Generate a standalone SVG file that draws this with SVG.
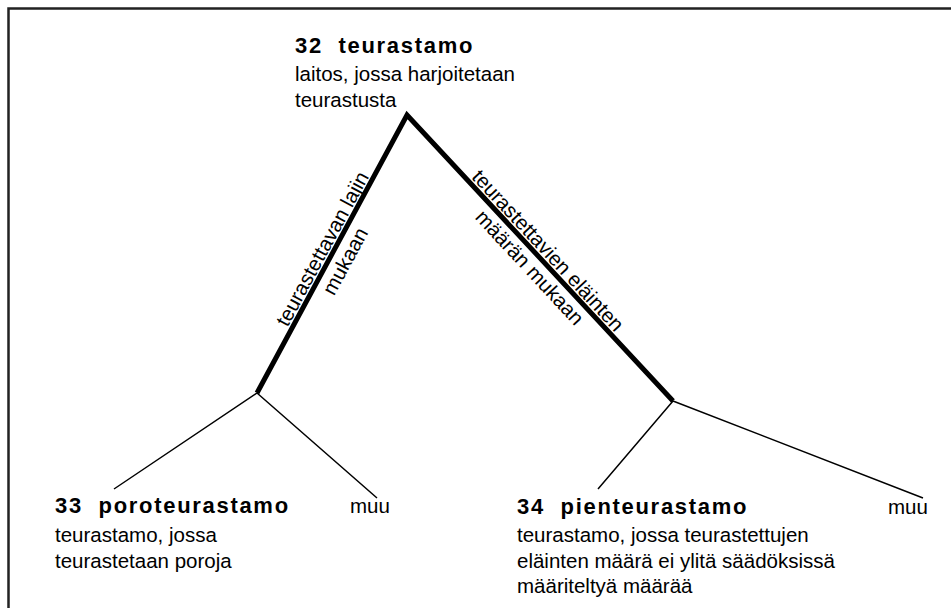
<svg xmlns="http://www.w3.org/2000/svg" width="951" height="608" viewBox="0 0 951 608">
<style>
text{font-family:"Liberation Sans",Arial,sans-serif;fill:#000}
.t{font-size:22px;font-weight:bold;letter-spacing:1.7px}
.d{font-size:20.5px}
.lbl{font-size:20.5px;text-anchor:middle}
.thick{stroke:#000;stroke-width:5;fill:none;stroke-linejoin:miter}
.thin{stroke:#000;stroke-width:1.5;fill:none}
</style>
<rect width="951" height="608" fill="#fff"/>
<path d="M8.5,608 V8.5 H951" fill="none" stroke="#222" stroke-width="2.5"/>
<g id="connectors">
<path class="thick" d="M257,393 L407,115 L673,401"/>
<path class="thin" d="M257,393 L114,489 M257,393 L377,498"/>
<path class="thin" d="M673,401 L598,489 M673,401 L923,498"/>
<g transform="translate(332,254) rotate(-61.6)">
<text class="lbl" y="-4">teurastettavan lajin</text>
<text class="lbl" y="22">mukaan</text>
</g>
<g transform="translate(540,258) rotate(47.1)">
<text class="lbl" y="-4">teurastettavien eläinten</text>
<text class="lbl" y="21">määrän mukaan</text>
</g>
</g>
<g id="n32">
<text class="t" x="295" y="53">32&#160; teurastamo</text>
<text class="d" x="295" y="81">laitos, jossa harjoitetaan</text>
<text class="d" x="295" y="107">teurastusta</text>
</g>
<g id="n33">
<text class="t" x="55" y="513">33&#160; poroteurastamo</text>
<text class="d" x="55" y="542">teurastamo, jossa</text>
<text class="d" x="55" y="568">teurastetaan poroja</text>
</g>
<g id="muu1">
<text class="d" x="350" y="513">muu</text>
</g>
<g id="n34">
<text class="t" x="517" y="514">34&#160; pienteurastamo</text>
<text class="d" x="517" y="542">teurastamo, jossa teurastettujen</text>
<text class="d" x="517" y="568">eläinten määrä ei ylitä säädöksissä</text>
<text class="d" x="517" y="593">määriteltyä määrää</text>
</g>
<g id="muu2">
<text class="d" x="888" y="514">muu</text>
</g>
</svg>
